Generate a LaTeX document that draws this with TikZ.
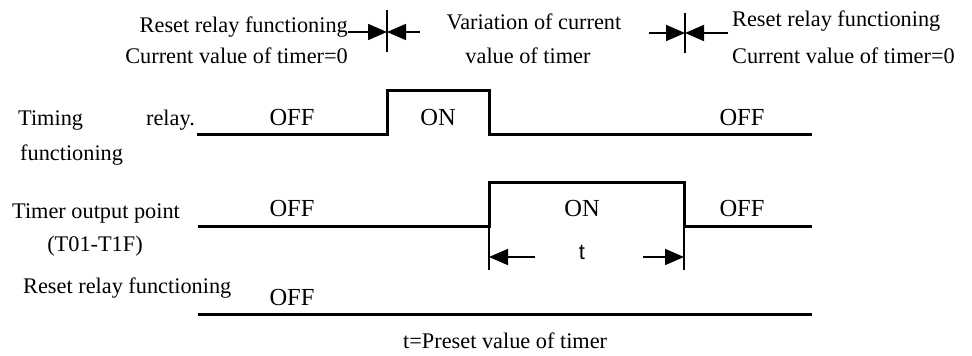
\documentclass[tikz,border=0pt]{standalone}
\usepackage{fontspec}
\setmainfont{Liberation Serif}
\newfontfamily\sansf{Liberation Sans}
\usetikzlibrary{arrows.meta}
\begin{document}
\begin{tikzpicture}[x=1pt,y=-1pt,
  lbl/.style={inner sep=0pt, font=\fontsize{22.3}{26}\selectfont},
  state/.style={inner sep=0pt, anchor=base, font=\fontsize{24.5}{28}\selectfont},
  wave/.style={line width=3pt, line join=miter},
  thinln/.style={line width=1.8pt},
  tip/.style={-{Triangle[length=19pt,width=16pt]}}]
\useasboundingbox (0,0) rectangle (972,356);

% top annotations
\node[lbl, anchor=base east] (rl1) at (348,32) {Reset relay functioning};
\node[lbl, anchor=base east] (cv1) at (348,63) {Current value of timer=0};
\node[lbl, anchor=base] (var1) at (534,29) {Variation of current};
\node[lbl, anchor=base] (var2) at (528,63) {value of timer};
\node[lbl, anchor=base west] (rl2) at (732,27) {Reset relay functioning};
\node[lbl, anchor=base west] (cv2) at (732,63) {Current value of timer=0};

% marker 1
\coordinate (m1) at (387,32);
\coordinate (m1l) at (348,32);
\coordinate (m1r) at (420,32);
\coordinate (m1t) at (387,10);
\coordinate (m1b) at (387,52);
\draw[thinln] (m1t) -- (m1b);
\draw[thinln, tip] (m1l) -- (m1);
\draw[thinln, tip] (m1r) -- (m1);

% marker 2
\coordinate (m2) at (685,33);
\coordinate (m2l) at (649,33);
\coordinate (m2r) at (728,33);
\coordinate (m2t) at (685,13);
\coordinate (m2b) at (685,53);
\draw[thinln] (m2t) -- (m2b);
\draw[thinln, tip] (m2l) -- (m2);
\draw[thinln, tip] (m2r) -- (m2);

% row labels
\node[lbl, anchor=base west] (tim) at (18,125) {Timing};
\node[lbl, anchor=base east] (rel) at (195,125) {relay.};
\node[lbl, anchor=base west] (fun) at (20,160) {functioning};
\node[lbl, anchor=base west] (top) at (12,218) {Timer output point};
\node[lbl, anchor=base] (t01) at (95,251) {(T01-T1F)};
\node[lbl, anchor=base west] (rrf) at (23,293) {Reset relay functioning};
\node[lbl, anchor=base west] (pre) at (403,348) {t=Preset value of timer};

% states
\node[state] (s1) at (292,125) {OFF};
\node[state] (s2) at (438,125) {ON};
\node[state] (s3) at (742,125) {OFF};
\node[state] (s4) at (292,216) {OFF};
\node[state] (s5) at (582,216) {ON};
\node[state] (s6) at (742,216) {OFF};
\node[state] (s7) at (292,305) {OFF};

% waveforms
\draw[wave] (197,134) -- (387,134) -- (387,90) -- (489,90) -- (489,134) -- (812,134);
\draw[wave] (198,226) -- (489,226) -- (489,182) -- (684,182) -- (684,226) -- (812,226);
\draw[wave] (198,314) -- (812,314);

% t dimension
\coordinate (da) at (489,226);
\coordinate (db) at (489,270);
\coordinate (dc) at (684,226);
\coordinate (dd) at (684,270);
\draw[thinln] (da) -- (db);
\draw[thinln] (dc) -- (dd);
\coordinate (al0) at (535,257);
\coordinate (al1) at (489,257);
\coordinate (ar0) at (643,257);
\coordinate (ar1) at (684,257);
\draw[thinln, tip] (al0) -- (al1);
\draw[thinln, tip] (ar0) -- (ar1);
\node[inner sep=0pt, anchor=base, font=\sansf\fontsize{22}{26}\selectfont] (tt) at (582,259) {t};
\end{tikzpicture}
\end{document}
